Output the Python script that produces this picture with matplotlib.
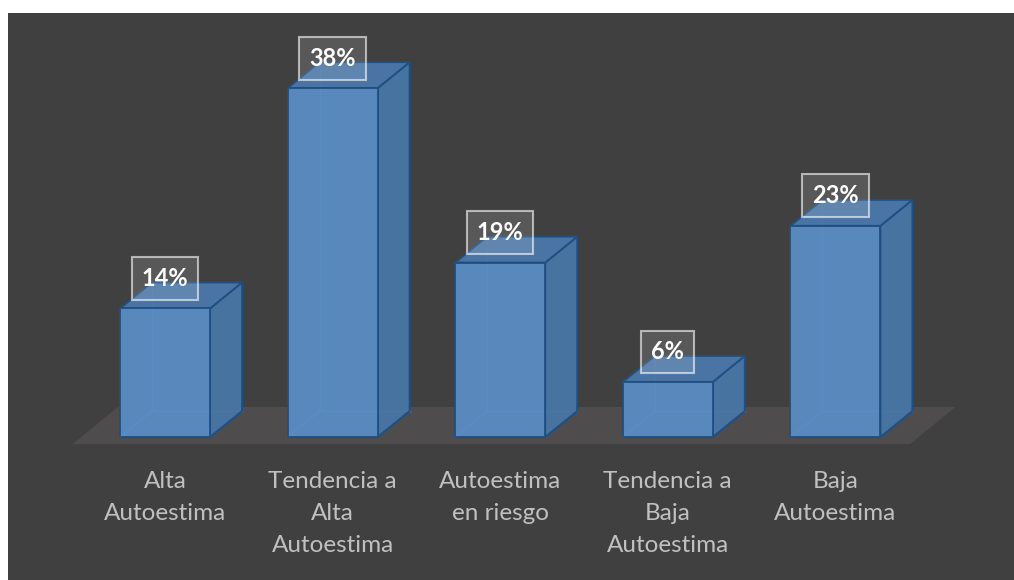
import matplotlib
matplotlib.use("Agg")
import matplotlib.pyplot as plt
from matplotlib.patches import Polygon

categories = ["Alta\nAutoestima", "Tendencia a\nAlta\nAutoestima", "Autoestima\nen riesgo",
              "Tendencia a\nBaja\nAutoestima", "Baja\nAutoestima"]
values = [14, 38, 19, 6, 23]
value_labels = ["14%", "38%", "19%", "6%", "23%"]

W, H = 1014, 580
fig = plt.figure(figsize=(W / 100, H / 100), dpi=100)
fig.patch.set_facecolor("white")

# dark plotting area
left_px, top_px = 8, 13
ax = fig.add_axes([left_px / W, 0, (W - left_px) / W, (H - top_px) / H])
ax.set_facecolor("#404040")
for s in ax.spines.values():
    s.set_visible(False)
ax.set_xticks([])
ax.set_yticks([])

# pixel mapping (layout): bar spacing & value scale
x0_px, step_px = 165.0, 167.6
y0_px, unit_px = 437.0, 9.18
def xi(px):
    return (px - x0_px) / step_px
def yv(py):
    return (y0_px - py) / unit_px
ax.set_xlim(xi(left_px), xi(W))
ax.set_ylim(yv(H), yv(top_px))

n = len(values)
hw = 45 / step_px          # half width of bar front
dx = 32 / step_px          # depth offset x
dy = 26 / unit_px          # depth offset y

# floor
fdx = 45 / step_px
fdy = 37 / unit_px
f_front = yv(444)
f_left = -0.55
f_right = (n - 1) + 0.447
ax.add_patch(Polygon([(f_left, f_front), (f_right, f_front),
                      (f_right + fdx, f_front + fdy), (f_left + fdx, f_front + fdy)],
                     closed=True, facecolor="#4e4c4c", edgecolor="none", zorder=1))

front_c = "#5a8ec6"
side_c = "#4876a6"
top_c = "#4a78aa"
edge_c = "#1f4f82"

for i, v in enumerate(values):
    xl, xr = i - hw, i + hw
    # hidden back edges (seen through translucent faces)
    ax.plot([xl + dx, xl + dx, xr + dx], [v + dy, dy, dy], color="#4a80bb", lw=1.0, zorder=2)
    ax.plot([xl, xl + dx], [0, dy], color="#4a80bb", lw=1.0, zorder=2)
    # side face
    ax.add_patch(Polygon([(xr, 0), (xr + dx, dy), (xr + dx, v + dy), (xr, v)], closed=True,
                         facecolor=side_c, edgecolor=edge_c, lw=1.4, alpha=0.95, zorder=3))
    # top face
    ax.add_patch(Polygon([(xl, v), (xr, v), (xr + dx, v + dy), (xl + dx, v + dy)], closed=True,
                         facecolor=top_c, edgecolor=edge_c, lw=1.4, alpha=0.95, zorder=3))
    # front face
    ax.add_patch(Polygon([(xl, 0), (xr, 0), (xr, v), (xl, v)], closed=True,
                         facecolor=front_c, edgecolor=edge_c, lw=1.4, alpha=0.93, zorder=4))
    # value label
    ax.text(i, v + 30 / unit_px, value_labels[i], ha="center", va="center",
            color="white", fontsize=17, fontweight="bold", family="Lato", zorder=6,
            bbox=dict(boxstyle="square,pad=0.42", facecolor=(1, 1, 1, 0.13),
                      edgecolor=(1, 1, 1, 0.6), lw=1.5))
    # category label
    ax.text(i, yv(471), categories[i], ha="center", va="top", color="#c0c0c0",
            fontsize=17.5, family="Lato", linespacing=1.65, zorder=6)

fig.savefig("out.png", dpi=100, facecolor=fig.get_facecolor())
